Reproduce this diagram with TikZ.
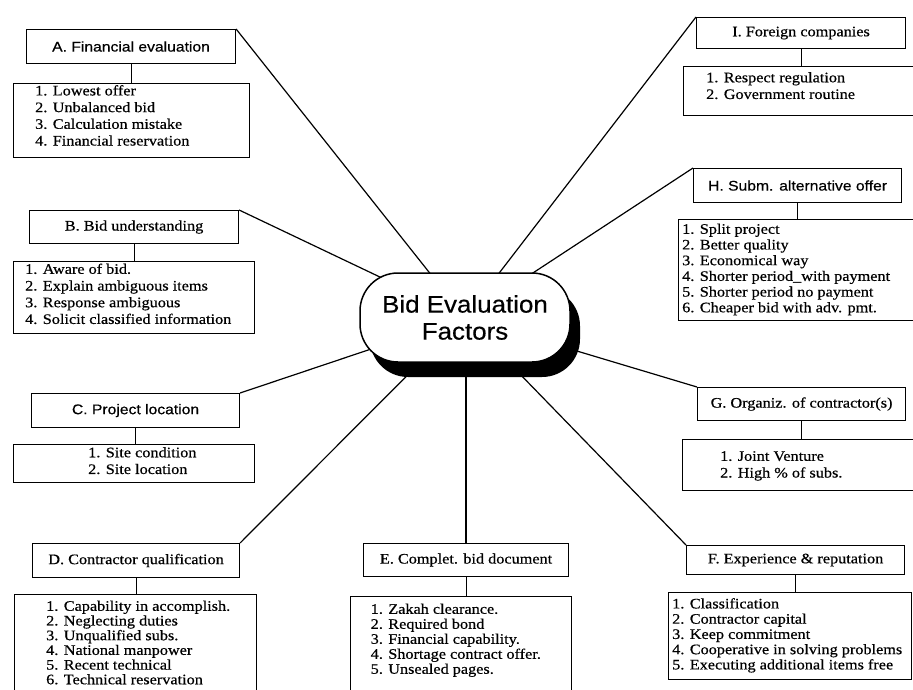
\documentclass[tikz,border=0pt]{standalone}
\usepackage{fontspec}
\usetikzlibrary{shadows}
\newfontfamily\listfont[FakeStretch=1.12,FakeBold=0.5]{Liberation Serif}
\newfontfamily\headsans[FakeStretch=1.12,FakeBold=0.5]{Liberation Sans}
\newfontfamily\hubfont[FakeStretch=1.08,FakeBold=0.4]{Liberation Sans}
\pgfdeclarelayer{links}
\pgfsetlayers{links,main}
\begin{document}
\begin{tikzpicture}[x=1pt,y=-1pt,
  hdr/.style={draw, line width=1.1pt, anchor=north west, inner sep=0pt, align=center},
  sanshd/.style={hdr, font=\headsans\fontsize{14}{16}\selectfont},
  serifhd/.style={hdr, font=\listfont\fontsize{14.5}{16}\selectfont},
  listbox/.style={draw, line width=1.1pt, anchor=north west, inner sep=0pt},
  listtext/.style={anchor=north west, inner sep=0pt, align=left,
    font=\listfont\fontsize{14.5}{#1}\selectfont},
  listtext/.default=16.7,
  link/.style={line width=1.2pt},
  stem/.style={line width=1.1pt}]
\useasboundingbox (0,0) rectangle (913,690);

% central topic with its drop shadow
\node[draw, fill=white, line width=1.5pt, rounded corners=38pt,
      minimum width=210pt, minimum height=89pt, align=center,
      font=\hubfont\fontsize{24}{27}\selectfont,
      drop shadow={shadow xshift=10pt, shadow yshift=-15pt, fill=black, opacity=1}]
  (core) at (465,317.5) {Bid Evaluation\\Factors};

% factor headings
\node[sanshd,  minimum width=209pt, minimum height=34pt] (hA) at (26,29)  {A. Financial evaluation};
\node[serifhd, minimum width=209pt, minimum height=33pt] (hB) at (29,210) {B. Bid understanding};
\node[sanshd,  minimum width=208pt, minimum height=34pt] (hC) at (31,393) {C. Project location};
\node[serifhd, minimum width=207pt, minimum height=34pt] (hD) at (32,543) {D. Contractor qualification};
\node[serifhd, minimum width=205pt, minimum height=33pt] (hE) at (363,543) {E. Complet. bid document};
\node[serifhd, minimum width=218pt, minimum height=29pt] (hF) at (686,545) {F. Experience \& reputation};
\node[serifhd, minimum width=209pt, minimum height=31pt] (hI) at (696,17)  {I. Foreign companies};
\node[sanshd,  minimum width=208pt, minimum height=34pt] (hH) at (693,168) {H. Subm. alternative offer};
\node[serifhd, minimum width=208pt, minimum height=33pt] (hG) at (697,387) {G. Organiz. of contractor(s)};

% item lists
\node[listbox, minimum width=236pt, minimum height=74pt]  (iA) at (13,83)  {};
\node[listbox, minimum width=241pt, minimum height=72pt]  (iB) at (13,261) {};
\node[listbox, minimum width=241pt, minimum height=38pt]  (iC) at (13,444) {};
\node[listbox, minimum width=242pt, minimum height=110pt] (iD) at (14,594) {};
\node[listbox, minimum width=221pt, minimum height=110pt] (iE) at (350,596) {};
\node[listbox, minimum width=243pt, minimum height=87pt]  (iF) at (668,592) {};
\node[listbox, minimum width=240pt, minimum height=49pt]  (iI) at (683,66)  {};
\node[listbox, minimum width=245pt, minimum height=101pt] (iH) at (678,219) {};
\node[listbox, minimum width=241pt, minimum height=51pt]  (iG) at (682,439) {};

\node[listtext] at ([xshift=22pt,yshift=-2pt]iA.north west)
  {1. Lowest offer\\2. Unbalanced bid\\3. Calculation mistake\\4. Financial reservation};
\node[listtext] at ([xshift=12pt,yshift=-2.4pt]iB.north west)
  {1. Aware of bid.\\2. Explain ambiguous items\\3. Response ambiguous\\4. Solicit classified information};
\node[listtext] at ([xshift=75pt,yshift=-3pt]iC.north west)
  {1. Site condition\\2. Site location};
\node[listtext=14.7] at ([xshift=32pt,yshift=-6.5pt]iD.north west)
  {1. Capability in accomplish.\\2. Neglecting duties\\3. Unqualified subs.\\4. National manpower\\5. Recent technical\\6. Technical reservation};
\node[listtext=15] at ([xshift=20.5pt,yshift=-7.5pt]iE.north west)
  {1. Zakah clearance.\\2. Required bond\\3. Financial capability.\\4. Shortage contract offer.\\5. Unsealed pages.};
\node[listtext=15.25] at ([xshift=4pt,yshift=-6pt]iF.north west)
  {1. Classification\\2. Contractor capital\\3. Keep commitment\\4. Cooperative in solving problems\\5. Executing additional items free};
\node[listtext] at ([xshift=23pt,yshift=-6pt]iI.north west)
  {1. Respect regulation\\2. Government routine};
\node[listtext=15.7] at ([xshift=4pt,yshift=-4.5pt]iH.north west)
  {1. Split project\\2. Better quality\\3. Economical way\\4. Shorter period\_with payment\\5. Shorter period no payment\\6. Cheaper bid with adv. pmt.};
\node[listtext] at ([xshift=38pt,yshift=-12pt]iG.north west)
  {1. Joint Venture\\2. High \% of subs.};

% heading-to-list stems
\foreach \k in {A,B,C,D,E,F,I,H,G}
  \draw[stem] (h\k.south) -- (h\k.south |- i\k.north);

% spokes to the central topic, drawn underneath it
\begin{pgfonlayer}{links}
  \draw[link] (hA.north east) -- (core.center);
  \draw[link] (hB.north east) -- (core.center);
  \draw[link] (hC.north east) -- (core.center);
  \draw[link] (hD.north east) -- (core.center);
  \draw[link] (hE.north) -- (hE.north |- core.center);
  \draw[link] (hF.north west) -- (core.center);
  \draw[link] (hG.north west) -- (core.center);
  \draw[link] (hH.north west) -- (core.center);
  \draw[link] (hI.north west) -- (core.center);
\end{pgfonlayer}
\end{tikzpicture}
\end{document}
